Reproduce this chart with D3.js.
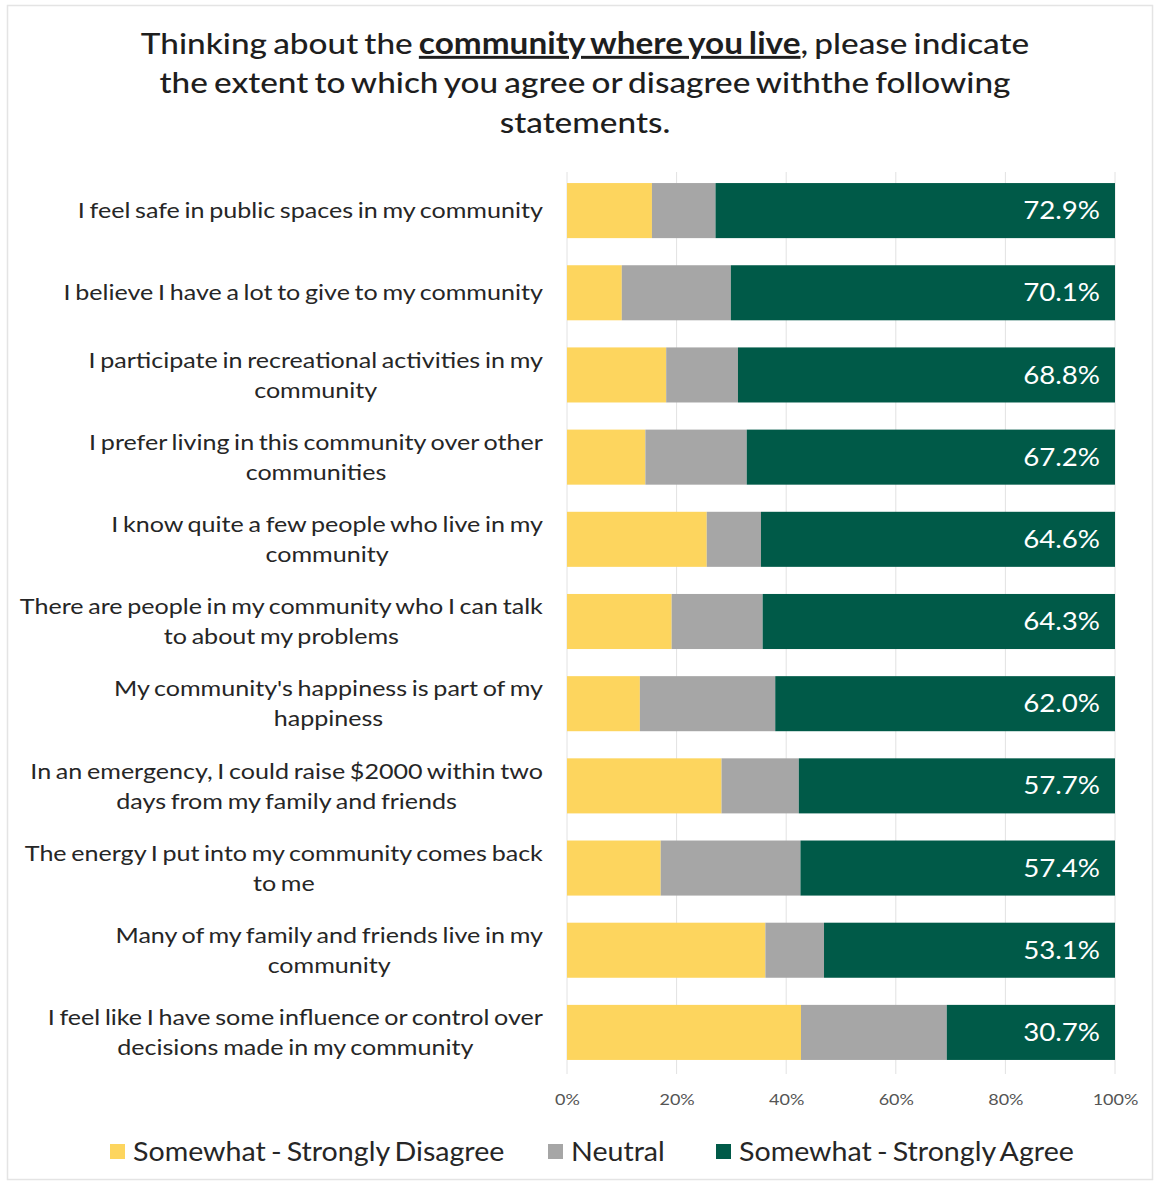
<!DOCTYPE html>
<html>
<head>
<meta charset="utf-8">
<script src="https://cdn.jsdelivr.net/npm/d3@7"></script>
<style>
  html, body { margin: 0; padding: 0; background: #fff; }
  svg { display: block; font-family: Lato, "Open Sans", sans-serif; }
</style>
</head>
<body>
<svg id="chart" width="1161" height="1184"></svg>
<script>
// Statements (line breaks mark where each label wraps)
const statements = [
  "I feel safe in public spaces in my community",
  "I believe I have a lot to give to my community",
  "I participate in recreational activities in my\ncommunity",
  "I prefer living in this community over other\ncommunities",
  "I know quite a few people who live in my\ncommunity",
  "There are people in my community who I can talk\nto about my problems",
  "My community's happiness is part of my\nhappiness",
  "In an emergency, I could raise $2000 within two\ndays from my family and friends",
  "The energy I put into my community comes back\nto me",
  "Many of my family and friends live in my\ncommunity",
  "I feel like I have some influence or control over\ndecisions made in my community"
];

// Share of responses (%) per statement
const disagree = [15.5, 10.0, 18.1, 14.3, 25.5, 19.1, 13.3, 28.2, 17.1, 36.2, 42.7];
const neutral  = [11.6, 19.9, 13.1, 18.5,  9.9, 16.6, 24.7, 14.1, 25.5, 10.7, 26.6];
const agree    = [72.9, 70.1, 68.8, 67.2, 64.6, 64.3, 62.0, 57.7, 57.4, 53.1, 30.7];

const seriesNames = ["Somewhat - Strongly Disagree", "Neutral", "Somewhat - Strongly Agree"];
const seriesColors = ["#FDD55E", "#A6A6A6", "#005A48"];
const tickValues = [0, 20, 40, 60, 80, 100];

const rows = statements.map((s, i) => ({
  statement: s, d: disagree[i], n: neutral[i], a: agree[i]
}));

// widen text horizontally about a fixed anchor x
function stretch(sel, ax, sx) {
  sel.attr("transform", `translate(${ax},0) scale(${sx},1) translate(${-ax},0)`);
}

const svg = d3.select("#chart");

// outer frame
svg.append("rect")
  .attr("x", 7.5).attr("y", 5.5)
  .attr("width", 1145).attr("height", 1174)
  .attr("fill", "#fff").attr("stroke", "#e4e4e4").attr("stroke-width", 1.5);

// title
const title = svg.append("text")
  .attr("text-anchor", "middle")
  .attr("font-size", 29.5)
  .attr("font-weight", 500)
  .attr("word-spacing", -2)
  .attr("fill", "#1e1e1e");
const t1 = title.append("tspan").attr("x", 585).attr("y", 54);
t1.append("tspan").text("Thinking about the ");
t1.append("tspan").attr("font-weight", "bold").attr("text-decoration", "underline")
  .text("community where you live");
t1.append("tspan").text(", please indicate");
title.append("tspan").attr("x", 585).attr("y", 93)
  .text("the extent to which you agree or disagree withthe following");
title.append("tspan").attr("x", 585).attr("y", 133).text("statements.");
stretch(title, 585, 1.13);

// scales
const x = d3.scaleLinear().domain([0, 100]).range([567, 1115]);
const y = d3.scaleBand()
  .domain(statements)
  .range([169.5, 1073.5])
  .paddingInner(0.33)
  .paddingOuter(0.165);

// vertical gridlines
svg.append("g")
  .selectAll("line")
  .data(tickValues)
  .join("line")
  .attr("x1", d => x(d)).attr("x2", d => x(d))
  .attr("y1", 172).attr("y2", 1074)
  .attr("stroke", "#e2e2e2").attr("stroke-width", 1);

// stacked bars
const stack = d3.stack().keys(["d", "n", "a"]);
const layers = stack(rows);
svg.append("g")
  .selectAll("g")
  .data(layers)
  .join("g")
  .attr("fill", (d, i) => seriesColors[i])
  .selectAll("rect")
  .data(d => d)
  .join("rect")
  .attr("x", d => x(d[0]))
  .attr("width", d => x(d[1]) - x(d[0]))
  .attr("y", d => y(d.data.statement))
  .attr("height", y.bandwidth());

// value labels on agree segment
svg.append("g")
  .selectAll("text")
  .data(rows)
  .join("text")
  .attr("x", 1100)
  .attr("y", d => y(d.statement) + y.bandwidth() / 2)
  .attr("dy", "0.35em")
  .attr("text-anchor", "end")
  .attr("font-size", 24.5)
  .attr("fill", "#fff")
  .text(d => d.a.toFixed(1) + "%")
  .call(s => stretch(s, 1100, 1.13));

// category labels: multi-line, centred within a right-aligned block
const labelRight = 543;
const lineH = 30;
const labelG = svg.append("g")
  .attr("font-size", 22)
  .attr("word-spacing", -1.5)
  .attr("fill", "#262626");
statements.forEach(s => {
  const lines = s.split("\n");
  const cy = y(s) + y.bandwidth() / 2;
  const txt = labelG.append("text").attr("text-anchor", "middle");
  const spans = lines.map((ln, j) =>
    txt.append("tspan")
      .attr("y", cy + (j - (lines.length - 1) / 2) * lineH)
      .attr("dy", "0.35em")
      .text(ln));
  const maxW = d3.max(spans, sp => sp.node().getComputedTextLength());
  spans.forEach(sp => sp.attr("x", labelRight - maxW / 2));
  stretch(txt, labelRight, 1.14);
});

// x axis
const axis = d3.axisBottom(x)
  .tickValues(tickValues)
  .tickFormat(d => d + "%")
  .tickSize(0)
  .tickPadding(0);
const axG = svg.append("g").attr("transform", "translate(0,1094)").call(axis);
axG.select(".domain").remove();
axG.selectAll("text")
  .attr("font-family", "Lato, sans-serif")
  .attr("font-size", 15)
  .attr("fill", "#555")
  .attr("transform", "scale(1.2,1)");

// legend
const legendX = [110, 548, 716];
const lg = svg.append("g")
  .attr("font-size", 26)
  .attr("word-spacing", -2)
  .attr("fill", "#262626");
seriesNames.forEach((name, i) => {
  lg.append("rect")
    .attr("x", legendX[i]).attr("y", 1144)
    .attr("width", 15).attr("height", 15)
    .attr("fill", seriesColors[i]);
  const tx = legendX[i] + 23;
  lg.append("text")
    .attr("x", tx).attr("y", 1152)
    .attr("dy", "0.35em")
    .text(name)
    .call(s => stretch(s, tx, 1.1));
});
</script>
</body>
</html>
